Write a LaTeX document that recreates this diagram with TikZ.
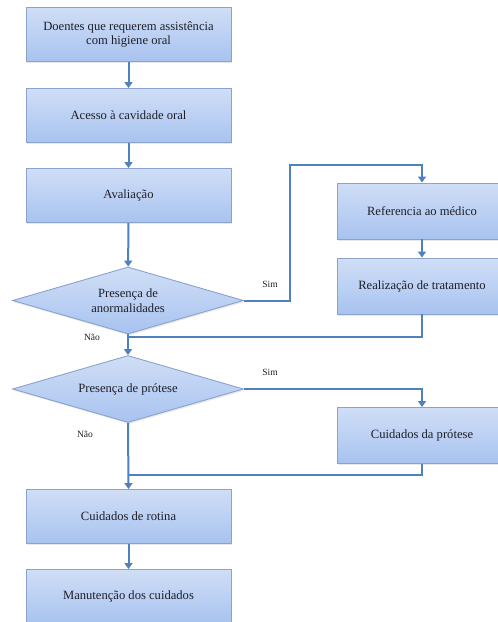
\documentclass[tikz,border=0pt]{standalone}
\usepackage{fontspec}
\setmainfont{Liberation Serif}
\usetikzlibrary{shapes.geometric,shadows,arrows.meta}

\definecolor{linkblue}{RGB}{79,129,189}
\definecolor{boxedge}{RGB}{138,162,204}
\definecolor{fillTop}{RGB}{208,222,246}
\definecolor{fillMid}{RGB}{222,232,251}
\definecolor{fillBot}{RGB}{168,195,240}
\definecolor{txt}{RGB}{30,30,40}

\tikzset{
  shade-fill/.style={top color=fillTop, middle color=fillMid, bottom color=fillBot,
    draw=boxedge, line width=0.9pt,
    drop shadow={opacity=0.18, shadow xshift=1pt, shadow yshift=-1.5pt}},
  stepbox/.style={shade-fill, rectangle, minimum width=205pt, minimum height=54pt,
    inner sep=0pt, font=\fontsize{12.6}{14.5}\selectfont, text=txt, align=center},
  sidebox/.style={stepbox, minimum width=170pt, minimum height=56pt},
  decision/.style={shade-fill, diamond, aspect=3.4, minimum width=231pt,
    minimum height=67pt, inner sep=0pt, font=\fontsize{12.6}{14.5}\selectfont,
    text=txt, align=center},
  link/.style={draw=linkblue, line width=2pt},
  flow/.style={link, -{Triangle[width=8pt,length=6pt]}},
  tag/.style={font=\fontsize{9.5}{10}\selectfont, text=txt, inner sep=0pt},
}

\begin{document}
\begin{tikzpicture}[x=1pt,y=-1pt]
  \useasboundingbox (0,0) rectangle (498,622);

  % main column
  \node[stepbox] (b1) at (128.5,34.5) {Doentes que requerem assistência\\com higiene oral};
  \node[stepbox] (b2) at (128.5,115.5) {Acesso à cavidade oral};
  \node[stepbox] (b3) at (128.5,195.5) {Avaliação};
  \node[decision] (d1) at (128,300.5) {Presença de\\anormalidades};
  \node[decision] (d2) at (128,389) {Presença de prótese};
  \node[stepbox] (b4) at (128.5,516.5) {Cuidados de rotina};
  \node[stepbox] (b5) at (128.5,596.5) {Manutenção dos cuidados};

  % side branch
  \node[sidebox] (r1) at (422,211) {Referencia ao médico};
  \node[sidebox] (r2) at (422,286) {Realização de tratamento};
  \node[sidebox] (r3) at (422,435.5) {Cuidados da prótese};

  % junctions
  \coordinate (j1) at (290,165);
  \coordinate (m1) at (128,337);
  \coordinate (m2) at (128,475);

  % connectors
  \draw[flow] (b1) -- (b2);
  \draw[flow] (b2) -- (b3);
  \draw[flow] (b3) -- (d1);
  \draw[flow] (d1.east) -| (j1) -| (r1.north);
  \draw[flow] (r1) -- (r2);
  \draw[link] (r2.south) |- (m1);
  \draw[flow] (d1.south) -- (d2.north);
  \draw[flow] (d2.east) -| (r3.north);
  \draw[link] (r3.south) |- (m2);
  \draw[flow] (d2.south) -- (b4.north);
  \draw[flow] (b4) -- (b5);

  % branch labels
  \node[tag] (s1) at (270,284) {Sim};
  \node[tag] (n1) at (92,337) {Não};
  \node[tag] (s2) at (270,372) {Sim};
  \node[tag] (n2) at (85,434) {Não};
\end{tikzpicture}
\end{document}
